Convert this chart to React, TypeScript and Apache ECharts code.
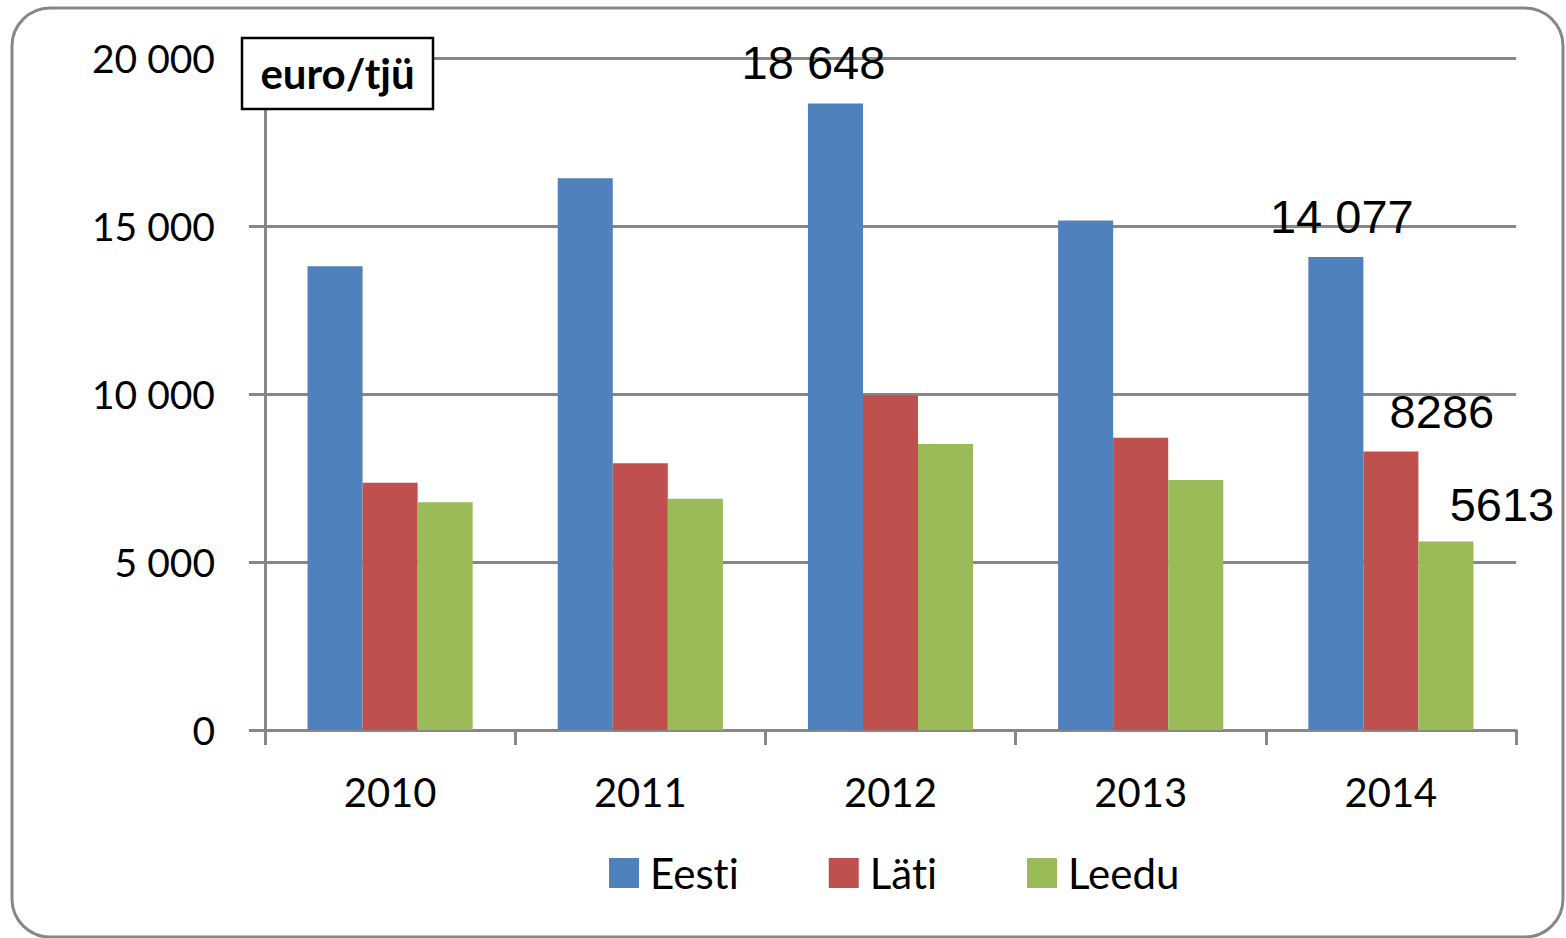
import React, { useEffect, useRef } from "react";
import * as echarts from "echarts";

const categories = ["2010", "2011", "2012", "2013", "2014"];
const seriesNames = ["Eesti", "Läti", "Leedu"];
const eesti = [13800, 16420, 18648, 15160, 14077];
const lati = [7360, 7940, 9960, 8700, 8286];
const leedu = [6780, 6880, 8510, 7440, 5613];
const colors = ["#4F81BD", "#C0504D", "#9BBB59"];
const yTicks = { min: 0, max: 20000, interval: 5000 };
const unitLabel = "euro/tjü";

// which data points carry a value label: [seriesIndex, categoryIndex, offsetX, offsetY]
const shownLabels: [number, number, number, number][] = [
  [0, 2, -22, 0],
  [0, 4, 6, 0],
  [1, 4, 51, 0],
  [2, 4, 56, 4],
];

const AXIS_FONT = "Lato, 'Open Sans', sans-serif";

function fmtAxis(v: number): string {
  const s = String(Math.round(v));
  return s.replace(/\B(?=(\d{3})+(?!\d))/g, " ");
}
function fmtData(v: number): string {
  return v >= 10000 ? fmtAxis(v) : String(v);
}

export default function App() {
  const ref = useRef<HTMLDivElement>(null);
  useEffect(() => {
    if (!ref.current) return;
    const chart = echarts.init(ref.current, undefined, { renderer: "svg" });
    const all = [eesti, lati, leedu];
    const series = all.map((vals, si) => ({
      name: seriesNames[si],
      type: "bar",
      barGap: "0%",
      barCategoryGap: "34%",
      itemStyle: { color: colors[si] },
      label: {
        show: false,
        position: "top",
        distance: 17,
        fontFamily: "'Liberation Sans', Arial, sans-serif",
        fontSize: 47,
        color: "#000",
        formatter: (p: any) => fmtData(p.value),
      },
      data: vals.map((v, ci) => {
        const l = shownLabels.find((x) => x[0] === si && x[1] === ci);
        if (!l) return v;
        return { value: v, label: { show: true, offset: [l[2], l[3]] } };
      }),
    }));
    chart.setOption({
      animation: false,
      backgroundColor: "#fff",
      grid: { left: 265, right: 50, top: 58, bottom: 208, containLabel: false },
      xAxis: {
        type: "category",
        data: categories,
        axisLine: { lineStyle: { color: "#878787", width: 3 } },
        axisTick: { show: true, length: 15, lineStyle: { color: "#878787", width: 3 } },
        axisLabel: { color: "#000", fontFamily: AXIS_FONT, fontSize: 40, margin: 42 },
        splitLine: { show: false },
      },
      yAxis: {
        type: "value",
        min: yTicks.min,
        max: yTicks.max,
        interval: yTicks.interval,
        axisLine: { show: true, lineStyle: { color: "#878787", width: 3 } },
        axisTick: { show: true, length: 16, lineStyle: { color: "#878787", width: 3 } },
        axisLabel: {
          color: "#000",
          fontFamily: AXIS_FONT,
          fontSize: 39,
          margin: 50,
          formatter: (v: number) => fmtAxis(v),
        },
        splitLine: { show: true, lineStyle: { color: "#878787", width: 3 } },
      },
      legend: {
        data: seriesNames,
        left: 609,
        top: 852,
        padding: 0,
        itemWidth: 30,
        itemHeight: 30,
        itemGap: 90,
        icon: "rect",
        formatter: (name: string) => name.replace("ti", "t\u200Ci"),
        textStyle: {
          color: "#000",
          fontFamily: AXIS_FONT,
          fontSize: 42,
          padding: [0, 0, 0, 6],
        },
      },
      graphic: [
        {
          type: "rect",
          shape: { x: 12, y: 8, width: 1551, height: 929, r: 38 },
          style: { fill: "none", stroke: "#878787", lineWidth: 3 },
          z: 100,
          silent: true,
        },
        {
          type: "rect",
          shape: { x: 242, y: 38, width: 191, height: 71 },
          style: { fill: "#fff", stroke: "#000", lineWidth: 2.5 },
          z: 100,
        },
        {
          type: "text",
          x: 337.5,
          y: 73,
          style: {
            text: unitLabel,
            fill: "#000",
            font: "bold 42px Lato, sans-serif",
            align: "center",
            verticalAlign: "middle",
          },
          z: 101,
        },
      ],
      series,
    });
    return () => chart.dispose();
  }, []);
  return (
    <div
      ref={ref}
      style={{ position: "absolute", left: 0, top: 0, width: 1566, height: 938 }}
    />
  );
}
